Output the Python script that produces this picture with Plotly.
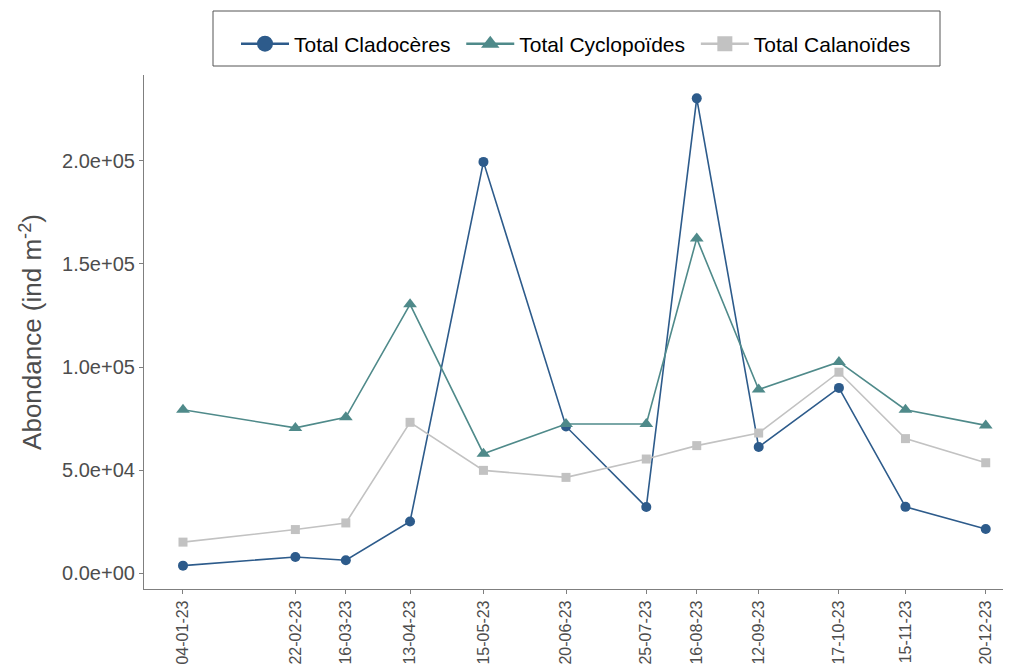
import plotly.graph_objects as go

dates = ["2023-01-04", "2023-02-22", "2023-03-16", "2023-04-13", "2023-05-15", "2023-06-20",
         "2023-07-25", "2023-08-16", "2023-09-12", "2023-10-17", "2023-11-15", "2023-12-20"]
cladoceres = [3700, 7900, 6300, 25100, 199500, 71200, 32100, 230300, 61200, 89900, 32200, 21500]
cyclopoides = [79300, 70500, 75600, 130400, 58000, 72400, 72400, 162400, 89100, 102500, 79300, 71700]
calanoides = [15100, 21200, 24400, 73200, 49900, 46500, 55400, 61900, 68000, 97500, 65300, 53600]

y_tickvals = [0, 50000, 100000, 150000, 200000]
y_ticktext = ["0.0e+00", "5.0e+04", "1.0e+05", "1.5e+05", "2.0e+05"]

series = [
    ("Total Cladocères", cladoceres, "#2D5B8B", "circle", 10, 17),
    ("Total Cyclopoïdes", cyclopoides, "#4F8A8A", "triangle-up", 12, 18),
    ("Total Calanoïdes", calanoides, "#C2C2C2", "square", 9, 15),
]

fig = go.Figure()
for name, vals, col, sym, ms, lms in series:
    fig.add_trace(go.Scatter(x=dates, y=vals, mode="lines+markers", name=name,
                             line=dict(color=col, width=1.6),
                             marker=dict(symbol=sym, size=ms, color=col),
                             showlegend=False))
for name, vals, col, sym, ms, lms in series:
    # trailing non-breaking space only widens the gap between legend entries
    fig.add_trace(go.Scatter(x=[None], y=[None], mode="lines+markers", name=name + "\u00a0",
                             line=dict(color=col, width=2.5),
                             marker=dict(symbol=sym, size=lms, color=col),
                             showlegend=True))

# page body has an 8px margin; figure coordinates are page coordinates minus 8
OFF = 8
PL, PR, PT, PB = 144 - OFF, 1008 - OFF, 75 - OFF, 589 - OFF
PW, PH = PR - PL, PB - PT

def px(x):
    return (x - OFF - PL) / PW

def py(y):
    return (PB - (y - OFF)) / PH

# legend frame (styling only)
fig.add_shape(type="rect", xref="paper", yref="paper",
              x0=px(213), x1=px(940), y0=py(66), y1=py(11),
              line=dict(color="#555555", width=1), fillcolor="white", layer="above")

W, H = 1011 - OFF, 666 - OFF
fig.update_layout(
    width=W, height=H,
    margin=dict(l=PL, r=W - PR, t=PT, b=H - PB, autoexpand=False),
    paper_bgcolor="white", plot_bgcolor="white",
    font=dict(family="Liberation Sans, Arial, sans-serif", color="#4D4D4D"),
    legend=dict(orientation="h", x=px(579), xanchor="center", y=py(44), yanchor="middle",
                borderwidth=0, font=dict(size=21, color="black"),
                itemwidth=48, bgcolor="rgba(0,0,0,0)"),
    xaxis=dict(type="date", range=["2022-12-18", "2023-12-29 17:00"], automargin=False,
               tickvals=dates, tickformat="%d-%m-%y", tickangle=-90,
               tickfont=dict(size=16, color="#4D4D4D"),
               showgrid=False, zeroline=False,
               showline=True, linecolor="#7F7F7F", linewidth=1.2,
               ticks="outside", ticklen=4, tickcolor="#7F7F7F"),
    yaxis=dict(range=[-7630, 241630], tickvals=y_tickvals, ticktext=y_ticktext, automargin=False,
               tickfont=dict(size=20, color="#4D4D4D"),
               showgrid=False, zeroline=False,
               showline=True, linecolor="#7F7F7F", linewidth=1.2,
               ticks="outside", ticklen=4, tickcolor="#7F7F7F",
               title=dict(text="Abondance (ind m<sup>-2</sup>)", font=dict(size=26, color="#4D4D4D"),
                          standoff=12)),
)

fig.write_html("out.html")
